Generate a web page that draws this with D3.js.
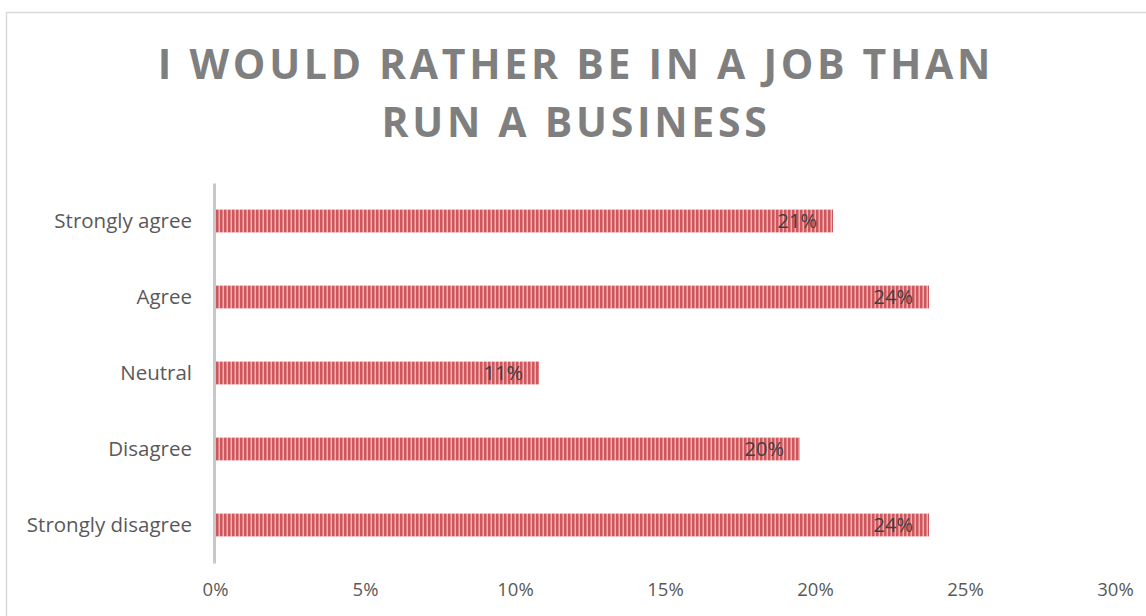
<!DOCTYPE html>
<html>
<head>
<meta charset="utf-8">
<script src="https://cdn.jsdelivr.net/npm/d3@7"></script>
<style>
  html, body { margin: 0; padding: 0; background: #fff; overflow: hidden; }
  svg { display: block; }
</style>
</head>
<body>
<svg id="chart" width="1146" height="616"></svg>
<script>
// Survey responses: "I would rather be in a job than run a business"
const categories = ["Strongly agree", "Agree", "Neutral", "Disagree", "Strongly disagree"];
const shares = [0.206, 0.238, 0.108, 0.195, 0.238];
const tickValues = [0, 0.05, 0.10, 0.15, 0.20, 0.25, 0.30];
const titleLines = ["I WOULD RATHER BE IN A JOB THAN", "RUN A BUSINESS"];

const svg = d3.select("#chart");
const fmt = d3.format(".0%");

// Outer chart frame
svg.append("rect")
  .attr("x", 6.5).attr("y", 12.5)
  .attr("width", 1300).attr("height", 800)
  .attr("fill", "#fff")
  .attr("stroke", "#d9d9d9")
  .attr("stroke-width", 1.5);

// Striped fill for the bars
const defs = svg.append("defs");
const pat = defs.append("pattern")
  .attr("id", "stripes")
  .attr("patternUnits", "userSpaceOnUse")
  .attr("width", 4).attr("height", 10);
pat.append("rect").attr("x", 0).attr("y", 0).attr("width", 4).attr("height", 10).attr("fill", "#edb4b6");
pat.append("rect").attr("x", 0).attr("y", 0).attr("width", 2).attr("height", 10).attr("fill", "#cf565b");
pat.append("rect").attr("x", 2).attr("y", 0).attr("width", 1).attr("height", 10).attr("fill", "#de8387");

// Title
svg.append("g")
  .selectAll("text")
  .data(titleLines)
  .join("text")
  .attr("x", 576)
  .attr("y", (d, i) => 79 + i * 58)
  .attr("text-anchor", "middle")
  .attr("font-family", "'Open Sans', sans-serif")
  .attr("font-weight", 700)
  .attr("font-size", 41)
  .attr("letter-spacing", 3.7)
  .attr("fill", "#7f7f7f")
  .text(d => d);

// Scales
const x = d3.scaleLinear().domain([0, 0.30]).range([215, 1115]);
const y = d3.scaleBand().domain(categories).range([183, 563]).paddingInner(0.7).paddingOuter(0.35);

// Bars
svg.append("g")
  .selectAll("rect")
  .data(categories)
  .join("rect")
  .attr("x", x(0) + 1)
  .attr("y", d => y(d))
  .attr("width", (d, i) => x(shares[i]) - x(0) - 1)
  .attr("height", y.bandwidth())
  .attr("fill", "url(#stripes)");

// Data labels at the inside end of each bar
svg.append("g")
  .selectAll("text")
  .data(categories)
  .join("text")
  .attr("x", (d, i) => x(shares[i]) - 16)
  .attr("y", d => y(d) + y.bandwidth() / 2)
  .attr("dy", "0.36em")
  .attr("text-anchor", "end")
  .attr("font-family", "'Open Sans', sans-serif")
  .attr("font-size", 20)
  .attr("fill", "#404040")
  .text((d, i) => fmt(shares[i]));

// Category axis
const yAxis = svg.append("g")
  .attr("transform", `translate(${x(0) - 1},0)`)
  .call(d3.axisLeft(y).tickSize(0).tickPadding(22));
yAxis.select(".domain").attr("stroke", "#c8c8c8").attr("stroke-width", 3);
yAxis.selectAll("text")
  .attr("font-family", "'Open Sans', sans-serif")
  .attr("font-size", 20.5)
  .attr("fill", "#595959");

// Value axis labels (no line)
const xAxis = svg.append("g")
  .attr("transform", "translate(0,563)")
  .call(d3.axisBottom(x).tickValues(tickValues).tickFormat(fmt).tickSize(0).tickPadding(20));
xAxis.select(".domain").remove();
xAxis.selectAll("text")
  .attr("font-family", "'Open Sans', sans-serif")
  .attr("font-size", 18.5)
  .attr("fill", "#595959");
</script>
</body>
</html>
